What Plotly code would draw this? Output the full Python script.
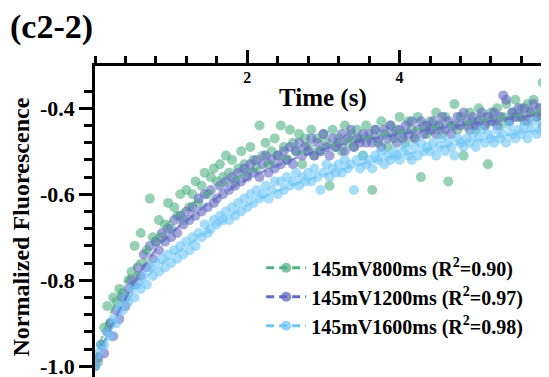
import plotly.graph_objects as go

# ---------------- data ----------------
time_s = [round(i * 0.04, 2) for i in range(151)]

green_800 = [
    -1.00, -0.99, -0.95, -0.91, -0.86, -0.90, -0.84, -0.85, -0.82, -0.83,
    -0.84, -0.80, -0.78, -0.72, -0.79, -0.69, -0.76, -0.73, -0.61, -0.70,
    -0.71, -0.66, -0.70, -0.67, -0.62, -0.68, -0.63, -0.65, -0.60, -0.66,
    -0.59, -0.63, -0.60, -0.57, -0.62, -0.58, -0.55, -0.60, -0.56, -0.54,
    -0.57, -0.53, -0.56, -0.51, -0.55, -0.52, -0.57, -0.54, -0.50, -0.53,
    -0.55, -0.49, -0.52, -0.54, -0.44, -0.51, -0.48, -0.53, -0.50, -0.47,
    -0.51, -0.44, -0.49, -0.52, -0.45, -0.48, -0.50, -0.46, -0.53, -0.47,
    -0.49, -0.45, -0.51, -0.47, -0.50, -0.46, -0.48, -0.58, -0.45, -0.49,
    -0.47, -0.50, -0.44, -0.48, -0.46, -0.49, -0.45, -0.47, -0.51, -0.44,
    -0.47, -0.59, -0.45, -0.48, -0.43, -0.46, -0.49, -0.44, -0.47, -0.45,
    -0.42, -0.46, -0.48, -0.43, -0.45, -0.47, -0.42, -0.56, -0.44, -0.46,
    -0.43, -0.45, -0.41, -0.44, -0.46, -0.42, -0.57, -0.44, -0.39, -0.45,
    -0.42, -0.51, -0.44, -0.41, -0.43, -0.45, -0.40, -0.42, -0.44, -0.53,
    -0.41, -0.43, -0.40, -0.44, -0.42, -0.39, -0.43, -0.41, -0.38, -0.42,
    -0.40, -0.43, -0.39, -0.41, -0.38, -0.42, -0.40, -0.34, -0.39, -0.41,
    -0.38,
]
purple_1200 = [
    -1.00, -0.98, -0.95, -0.97, -0.92, -0.90, -0.93, -0.87, -0.89, -0.84,
    -0.86, -0.82, -0.80, -0.81, -0.77, -0.79, -0.74, -0.77, -0.72, -0.75,
    -0.71, -0.73, -0.69, -0.71, -0.68, -0.70, -0.66, -0.69, -0.65, -0.67,
    -0.64, -0.66, -0.63, -0.65, -0.61, -0.64, -0.60, -0.63, -0.59, -0.62,
    -0.61, -0.58, -0.60, -0.57, -0.59, -0.56, -0.58, -0.55, -0.57, -0.54,
    -0.56, -0.53, -0.55, -0.52, -0.56, -0.53, -0.51, -0.55, -0.52, -0.54,
    -0.51, -0.53, -0.50, -0.52, -0.49, -0.53, -0.50, -0.48, -0.51, -0.49,
    -0.50, -0.47, -0.51, -0.48, -0.50, -0.46, -0.49, -0.51, -0.47, -0.49,
    -0.48, -0.46, -0.50, -0.47, -0.45, -0.49, -0.47, -0.48, -0.46, -0.48,
    -0.46, -0.48, -0.45, -0.47, -0.49, -0.45, -0.47, -0.44, -0.46, -0.48,
    -0.45, -0.47, -0.44, -0.46, -0.43, -0.47, -0.45, -0.43, -0.46, -0.44,
    -0.45, -0.43, -0.46, -0.44, -0.42, -0.45, -0.43, -0.46, -0.44, -0.42,
    -0.44, -0.41, -0.43, -0.45, -0.42, -0.44, -0.43, -0.41, -0.44, -0.42,
    -0.43, -0.41, -0.44, -0.42, -0.37, -0.38, -0.43, -0.41, -0.42, -0.40,
    -0.42, -0.40, -0.43, -0.41, -0.39, -0.42, -0.40, -0.44, -0.41, -0.39,
    -0.40,
]
blue_1600 = [
    -1.00, -0.97, -0.95, -0.95, -0.92, -0.93, -0.89, -0.90, -0.86, -0.87,
    -0.84, -0.85, -0.82, -0.84, -0.81, -0.82, -0.79, -0.81, -0.77, -0.79,
    -0.76, -0.78, -0.75, -0.77, -0.74, -0.76, -0.73, -0.75, -0.72, -0.74,
    -0.71, -0.73, -0.70, -0.72, -0.69, -0.70, -0.67, -0.69, -0.68, -0.66,
    -0.67, -0.65, -0.66, -0.64, -0.66, -0.63, -0.65, -0.62, -0.64, -0.61,
    -0.63, -0.60, -0.62, -0.59, -0.61, -0.60, -0.58, -0.61, -0.59, -0.57,
    -0.60, -0.57, -0.59, -0.56, -0.58, -0.57, -0.55, -0.58, -0.56, -0.57,
    -0.55, -0.57, -0.54, -0.56, -0.59, -0.55, -0.53, -0.56, -0.54, -0.55,
    -0.53, -0.55, -0.52, -0.54, -0.53, -0.59, -0.52, -0.54, -0.51, -0.53,
    -0.52, -0.54, -0.51, -0.52, -0.50, -0.53, -0.51, -0.52, -0.50, -0.51,
    -0.52, -0.50, -0.49, -0.51, -0.52, -0.49, -0.51, -0.48, -0.50, -0.49,
    -0.50, -0.48, -0.51, -0.49, -0.47, -0.50, -0.48, -0.49, -0.51, -0.47,
    -0.48, -0.49, -0.47, -0.48, -0.46, -0.49, -0.47, -0.45, -0.48, -0.46,
    -0.47, -0.48, -0.45, -0.47, -0.46, -0.48, -0.44, -0.46, -0.47, -0.45,
    -0.46, -0.44, -0.47, -0.45, -0.43, -0.46, -0.45, -0.44, -0.46, -0.43,
    -0.44,
]

fit_t = [0, 0.1, 0.2, 0.35, 0.5, 0.75, 1.0, 1.25, 1.5, 2.0, 2.5, 3.0, 3.5, 4.0, 5.0, 6.0]
green_fit = [-0.99, -0.93, -0.88, -0.82, -0.775, -0.71, -0.66, -0.625, -0.595, -0.55, -0.515, -0.49, -0.47, -0.455, -0.43, -0.405]
purple_fit = [-0.99, -0.95, -0.915, -0.86, -0.81, -0.74, -0.69, -0.655, -0.62, -0.565, -0.525, -0.495, -0.475, -0.46, -0.435, -0.41]
blue_fit = [-0.99, -0.955, -0.92, -0.87, -0.83, -0.78, -0.745, -0.715, -0.685, -0.625, -0.585, -0.555, -0.53, -0.51, -0.475, -0.445]

series_names = [
    "145mV800ms (R<sup>2</sup>=0.90)",
    "145mV1200ms (R<sup>2</sup>=0.97)",
    "145mV1600ms (R<sup>2</sup>=0.98)",
]
x_tick_vals = [2, 4]
x_tick_text = ["2", "4"]
y_tick_vals = [-1.0, -0.8, -0.6, -0.4]
y_tick_text = ["-1.0", "-0.8", "-0.6", "-0.4"]

colors = ["rgb(82,178,132)", "rgb(96,106,194)", "rgb(110,198,246)"]
values = [green_800, purple_1200, blue_1600]
fits = [green_fit, purple_fit, blue_fit]

FONT = "Liberation Serif"

fig = go.Figure()
for vals, col in zip(values, colors):
    fig.add_trace(go.Scatter(
        x=time_s, y=vals, mode="markers",
        marker=dict(size=10, color=col, opacity=0.6, line=dict(width=0)),
        showlegend=False, hoverinfo="skip",
    ))
for fit, col in zip(fits, colors):
    fig.add_trace(go.Scatter(
        x=fit_t, y=fit, mode="lines", line=dict(color=col, width=2.5, dash="10px,7px", shape="spline"),
        opacity=0.7, showlegend=False, hoverinfo="skip",
    ))
for name, col in zip(series_names, colors):
    fig.add_trace(go.Scatter(
        x=[None], y=[None], mode="lines+markers", name=name,
        marker=dict(size=10, color=col, opacity=0.75),
        line=dict(color=col, width=3, dash="8px,5px"),
    ))

# the page body adds an 8 px offset, so margins are reduced by 8 px
fig.update_layout(
    width=549, height=377,
    margin=dict(l=87, r=8, t=58, b=8),
    paper_bgcolor="white", plot_bgcolor="white",
    font=dict(family=FONT, color="black"),
    legend=dict(
        x=0.366, y=0.414, xanchor="left", yanchor="top",
        bgcolor="rgba(0,0,0,0)", itemwidth=40,
        font=dict(family=FONT, size=20, weight="bold", color="black"),
        tracegroupgap=0,
    ),
    xaxis=dict(
        side="top", range=[0, 5.962], showgrid=False, zeroline=False, automargin=False,
        showline=True, linecolor="black", linewidth=2.5,
        ticks="outside", ticklen=13, tickwidth=2.5, tickcolor="black",
        tickvals=x_tick_vals, ticktext=x_tick_text,
        ticklabelposition="inside", ticklabelstandoff=6,
        tickfont=dict(family=FONT, size=16, weight="bold", color="black"),
        minor=dict(dtick=0.4, tick0=0, ticks="outside", ticklen=7, tickwidth=2.5, tickcolor="black", showgrid=False),
    ),
    yaxis=dict(
        range=[-1.0249, -0.3016], showgrid=False, zeroline=False, automargin=False,
        showline=True, linecolor="black", linewidth=2.5,
        ticks="outside", ticklen=13, tickwidth=2.5, tickcolor="black",
        tickvals=y_tick_vals, ticktext=y_tick_text,
        tickfont=dict(family=FONT, size=22, weight="bold", color="black"),
        minor=dict(dtick=0.04, tick0=-1.0, ticks="outside", ticklen=8, tickwidth=2.5, tickcolor="black", showgrid=False),
    ),
    annotations=[
        dict(text="(c2-2)", xref="paper", yref="paper", x=-0.1916, y=1.125,
             xanchor="left", yanchor="middle", showarrow=False,
             font=dict(family=FONT, size=34, weight="bold", color="black")),
        dict(text="Time (s)", xref="paper", yref="paper", x=0.502, y=0.897,
             xanchor="center", yanchor="middle", showarrow=False,
             font=dict(family=FONT, size=25, weight="bold", color="black")),
        dict(text="Normalized Fluorescence", xref="paper", yref="paper", x=-0.163, y=0.061,
             xanchor="center", yanchor="bottom", textangle=-90, showarrow=False,
             font=dict(family=FONT, size=24, weight="bold", color="black")),
        dict(text="6", xref="paper", yref="paper", x=1.005, y=0.955,
             xanchor="center", yanchor="middle", showarrow=False,
             font=dict(family=FONT, size=16, weight="bold", color="black")),
    ],
)

fig.write_html("out.html")
